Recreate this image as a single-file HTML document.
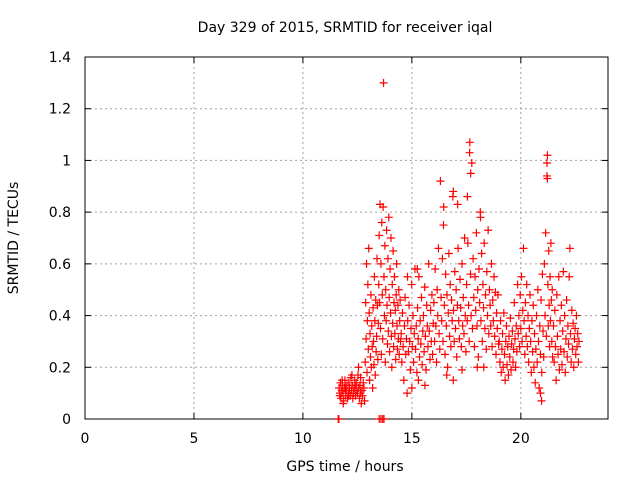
<!DOCTYPE html>
<html><head><meta charset="utf-8">
<style>
body{margin:0;background:#fff;}
svg{display:block;font-family:"DejaVu Sans","Liberation Sans",Arial,sans-serif;}
</style></head>
<body>
<svg id="chart" width="640" height="480" viewBox="0 0 640 480">
<rect x="0" y="0" width="640" height="480" fill="#fff"/>
<text x="345" y="32" font-size="14" text-anchor="middle" fill="#000">Day 329 of 2015, SRMTID for receiver iqal</text>
<text x="345" y="471" font-size="14" text-anchor="middle" fill="#000">GPS time / hours</text>
<text transform="translate(18,238) rotate(-90)" font-size="14" text-anchor="middle" fill="#000">SRMTID / TECUs</text>
<g id="grid"></g>
<g id="axes"></g>
<g id="marks"></g>
</svg>
<script>
const xTicks=[0,5,10,15,20];
const yTicks=[0,0.2,0.4,0.6,0.8,1,1.2,1.4];
const yTickLabels=["0","0.2","0.4","0.6","0.8","1","1.2","1.4"];
const obs=[
[11.62,0],[11.65,0],[13.5,0],[13.58,0],[13.66,0],[13.72,0],
[11.66,.12],[11.69,.09],[11.72,.14],[11.75,.08],[11.78,.11],[11.81,.13],[11.84,.10],[11.87,.07],[11.90,.12],[11.93,.15],[11.96,.09],[11.99,.11],[12.02,.13],[12.05,.08],[12.08,.10],[12.11,.14],[12.14,.12],[12.17,.09],[12.20,.16],[12.23,.11],[12.26,.13],[12.29,.08],[12.32,.10],[12.35,.12],[12.38,.15],[12.41,.09],[12.44,.11],[12.47,.14],[12.50,.10],[12.53,.17],[12.56,.12],[12.59,.08],[12.62,.13],[12.65,.10],[12.68,.06],[12.71,.11],[12.74,.09],[12.77,.14],[12.80,.12],[12.83,.07],
[11.70,.10],[11.80,.15],[11.95,.12],[12.10,.09],[12.25,.17],[12.40,.13],[12.55,.20],[12.65,.16],[11.85,.06],
[12.86,.22],[12.88,.45],[12.90,.31],[12.92,.60],[12.94,.18],[12.96,.38],[12.98,.52],[13.00,.27],[13.02,.66],[13.04,.41],[13.06,.15],[13.08,.33],[13.10,.24],[13.12,.48],[13.14,.20],[13.16,.36],[13.18,.28],[13.20,.12],[13.22,.43],[13.24,.30],[13.26,.21],[13.28,.55],[13.30,.38],[13.32,.17],[13.34,.46],[13.36,.26],[13.38,.32],[13.40,.62],[13.42,.44],[13.44,.23],[13.46,.37],[13.48,.52],
[13.50,.71],[13.52,.45],[13.54,.83],[13.56,.35],[13.58,.60],[13.60,.25],[13.62,.76],[13.64,.48],[13.66,.31],[13.68,.82],[13.70,1.30],[13.72,.55],[13.74,.40],[13.76,.67],[13.78,.22],[13.80,.50],[13.82,.38],[13.84,.73],[13.86,.44],[13.88,.29],[13.90,.62],[13.92,.34],[13.94,.78],[13.96,.47],[13.98,.26],[14.00,.58],[14.02,.41],[14.04,.70],[14.06,.32],[14.08,.20],[14.10,.52],[14.12,.37],[14.14,.65],[14.16,.28],[14.18,.45],[14.20,.55],[14.22,.33],[14.24,.42],[14.26,.23],[14.28,.48],[14.30,.60],[14.32,.36],[14.34,.27],[14.36,.44],[14.38,.31],[14.40,.50],[14.42,.25],[14.44,.38],[14.46,.46],[14.48,.30],
[14.51,.33],[14.54,.22],[14.57,.41],[14.60,.28],[14.63,.15],[14.66,.36],[14.69,.47],[14.72,.25],[14.75,.31],[14.78,.10],[14.81,.38],[14.84,.26],[14.87,.44],[14.90,.30],[14.93,.19],[14.96,.35],[14.99,.52],[15.02,.28],[15.05,.40],[15.08,.22],[15.11,.33],[15.14,.58],[15.17,.27],[15.20,.36],[15.23,.18],[15.26,.43],[15.29,.31],[15.32,.55],[15.35,.24],[15.38,.38],[15.41,.29],[15.44,.47],[15.47,.21],[15.50,.34],[15.53,.40],[15.56,.26],[15.59,.51],[15.62,.32],[15.65,.19],[15.68,.44],[15.71,.36],[15.74,.28],[15.77,.60],[15.80,.34],[15.83,.23],[15.86,.42],[15.89,.30],[15.92,.48],[15.95,.25],[15.98,.37],
[15.0,.12],[15.3,.15],[15.6,.13],[14.8,.55],[15.25,.58],
[16.01,.45],[16.04,.30],[16.07,.58],[16.10,.36],[16.13,.22],[16.16,.50],[16.19,.40],[16.22,.66],[16.25,.33],[16.28,.27],[16.31,.92],[16.34,.47],[16.37,.38],[16.40,.62],[16.43,.30],[16.46,.82],[16.49,.44],[16.52,.25],[16.55,.56],[16.58,.36],[16.61,.48],[16.64,.20],[16.67,.41],[16.70,.64],[16.73,.32],[16.76,.52],[16.79,.28],[16.82,.46],[16.85,.38],[16.88,.86],[16.91,.42],[16.94,.30],[16.97,.57],[17.00,.35],[17.03,.50],[17.06,.24],[17.09,.44],[17.12,.66],[17.15,.38],[17.18,.31],[17.21,.54],[17.24,.43],[17.27,.28],[17.30,.60],[17.33,.36],[17.36,.47],[17.39,.33],[17.42,.70],[17.45,.40],[17.48,.26],
[16.6,.17],[16.9,.15],[17.3,.19],[16.45,.75],[17.1,.83],[16.9,.88],
[17.51,.52],[17.54,.38],[17.57,.68],[17.60,.44],[17.63,.30],[17.66,1.07],[17.69,.56],[17.72,.40],[17.75,.99],[17.78,.35],[17.81,.62],[17.84,.47],[17.87,.28],[17.90,.55],[17.93,.42],[17.96,.72],[17.99,.36],[18.02,.50],[18.05,.24],[18.08,.58],[18.11,.45],[18.14,.80],[18.17,.38],[18.20,.64],[18.23,.30],[18.26,.52],[18.29,.43],[18.32,.68],[18.35,.35],[18.38,.48],[18.41,.27],[18.44,.57],[18.47,.40],[18.50,.73],[18.53,.33],[18.56,.50],[18.59,.44],[18.62,.36],[18.65,.60],[18.68,.28],[18.71,.46],[18.74,.38],[18.77,.55],[18.80,.32],[18.83,.49],[18.86,.25],[18.89,.41],[18.92,.35],[18.95,.48],[18.98,.29],
[17.65,1.03],[17.7,.95],[18.3,.20],[18.0,.20],[17.55,.86],[18.15,.78],
[19.01,.30],[19.04,.22],[19.07,.38],[19.10,.18],[19.13,.27],[19.16,.33],[19.19,.20],[19.22,.41],[19.25,.25],[19.28,.15],[19.31,.30],[19.34,.36],[19.37,.21],[19.40,.28],[19.43,.17],[19.46,.32],[19.49,.24],[19.52,.39],[19.55,.19],[19.58,.29],[19.61,.34],[19.64,.22],[19.67,.27],[19.70,.45],[19.73,.31],[19.76,.20],[19.79,.36],[19.82,.26],[19.85,.52],[19.88,.33],[19.91,.40],[19.94,.28],[19.97,.48],[20.00,.35],[20.03,.55],[20.06,.30],[20.09,.42],[20.12,.66],[20.15,.38],[20.18,.25],
[20.21,.45],[20.24,.32],[20.27,.52],[20.30,.28],[20.33,.40],[20.36,.22],[20.39,.35],[20.42,.48],[20.45,.30],[20.48,.18],[20.51,.38],[20.54,.26],[20.57,.44],[20.60,.20],[20.63,.33],[20.66,.14],[20.69,.27],[20.72,.40],[20.75,.22],[20.78,.50],[20.81,.30],[20.84,.12],[20.87,.36],[20.90,.25],[20.93,.46],[20.96,.18],[20.99,.56],[21.02,.34],[21.05,.24],[21.08,.60],[21.11,.40],[21.14,.72],[21.17,.32],[21.20,.94],[21.22,1.02],[21.24,.52],[21.26,.36],[21.28,.65],[21.30,.44],[21.32,.28],[21.34,.55],[21.36,.38],[21.38,.68],[21.40,.46],[21.42,.30],[21.44,.50],[21.46,.24],
[20.95,.07],[20.9,.10],[21.2,.99],[21.22,.93],
[21.50,.36],[21.53,.22],[21.56,.42],[21.59,.28],[21.62,.15],[21.65,.48],[21.68,.32],[21.71,.25],[21.74,.55],[21.77,.19],[21.80,.38],[21.83,.27],[21.86,.44],[21.89,.21],[21.92,.34],[21.95,.57],[21.98,.26],[22.01,.40],[22.04,.18],[22.07,.31],[22.10,.46],[22.13,.24],[22.16,.36],[22.19,.29],[22.22,.55],[22.25,.66],[22.28,.33],[22.31,.22],[22.34,.42],[22.37,.27],[22.40,.37],[22.43,.20],[22.46,.31],[22.49,.35],[22.52,.25],[22.55,.40],[22.58,.28],[22.61,.33],[22.64,.22],[22.67,.30]
];
const L=85,R=608,T=57,B=419,XMAX=24,YMAX=1.4;
function sx(v){return L+v/XMAX*(R-L);}
function sy(v){return B-v/YMAX*(B-T);}
const NS="http://www.w3.org/2000/svg";
function mk(tag,attrs,parent){const e=document.createElementNS(NS,tag);for(const k in attrs)e.setAttribute(k,attrs[k]);parent.appendChild(e);return e;}
const grid=document.getElementById('grid'),axes=document.getElementById('axes'),marks=document.getElementById('marks');
xTicks.forEach(function(t){
  const x=sx(t);
  if(t>0){const g=mk('line',{x1:x,y1:T,x2:x,y2:B,stroke:'#a0a0a0','stroke-dasharray':'2,3','stroke-width':1},grid);
  
  }
  const a=mk('line',{x1:x,y1:B,x2:x,y2:B-6,stroke:'#000'},axes);
  
  
  const b=mk('line',{x1:x,y1:T,x2:x,y2:T+6,stroke:'#000'},axes);
  
  
  const tx=mk('text',{x:x,y:B+24,'font-size':14,'text-anchor':'middle',fill:'#000'},axes);
  tx.textContent=String(t);
  
  
});
yTicks.forEach(function(t,i){
  const y=sy(t);
  if(t>0&&t<YMAX){const g=mk('line',{x1:L,y1:y,x2:R,y2:y,stroke:'#a0a0a0','stroke-dasharray':'2,3','stroke-width':1},grid);
  
  }
  const a=mk('line',{x1:L,y1:y,x2:L+6,y2:y,stroke:'#000'},axes);
  
  
  const b=mk('line',{x1:R,y1:y,x2:R-6,y2:y,stroke:'#000'},axes);
  
  
  const tx=mk('text',{x:L-14,y:y+5,'font-size':14,'text-anchor':'end',fill:'#000'},axes);
  tx.textContent=yTickLabels[i];
  
  
});
const frame=mk('rect',{x:L,y:T,width:R-L,height:B-T,fill:'none',stroke:'#000','stroke-width':1},axes);


obs.forEach(function(p){
  const x=sx(p[0]),y=sy(p[1]);
  const m=mk('path',{d:'M'+(x-4)+' '+y+'H'+(x+4)+'M'+x+' '+(y-4)+'V'+(y+4),stroke:'#ff0000','stroke-width':1.2,fill:'none'},marks);
  
  
});
</script>
</body></html>
